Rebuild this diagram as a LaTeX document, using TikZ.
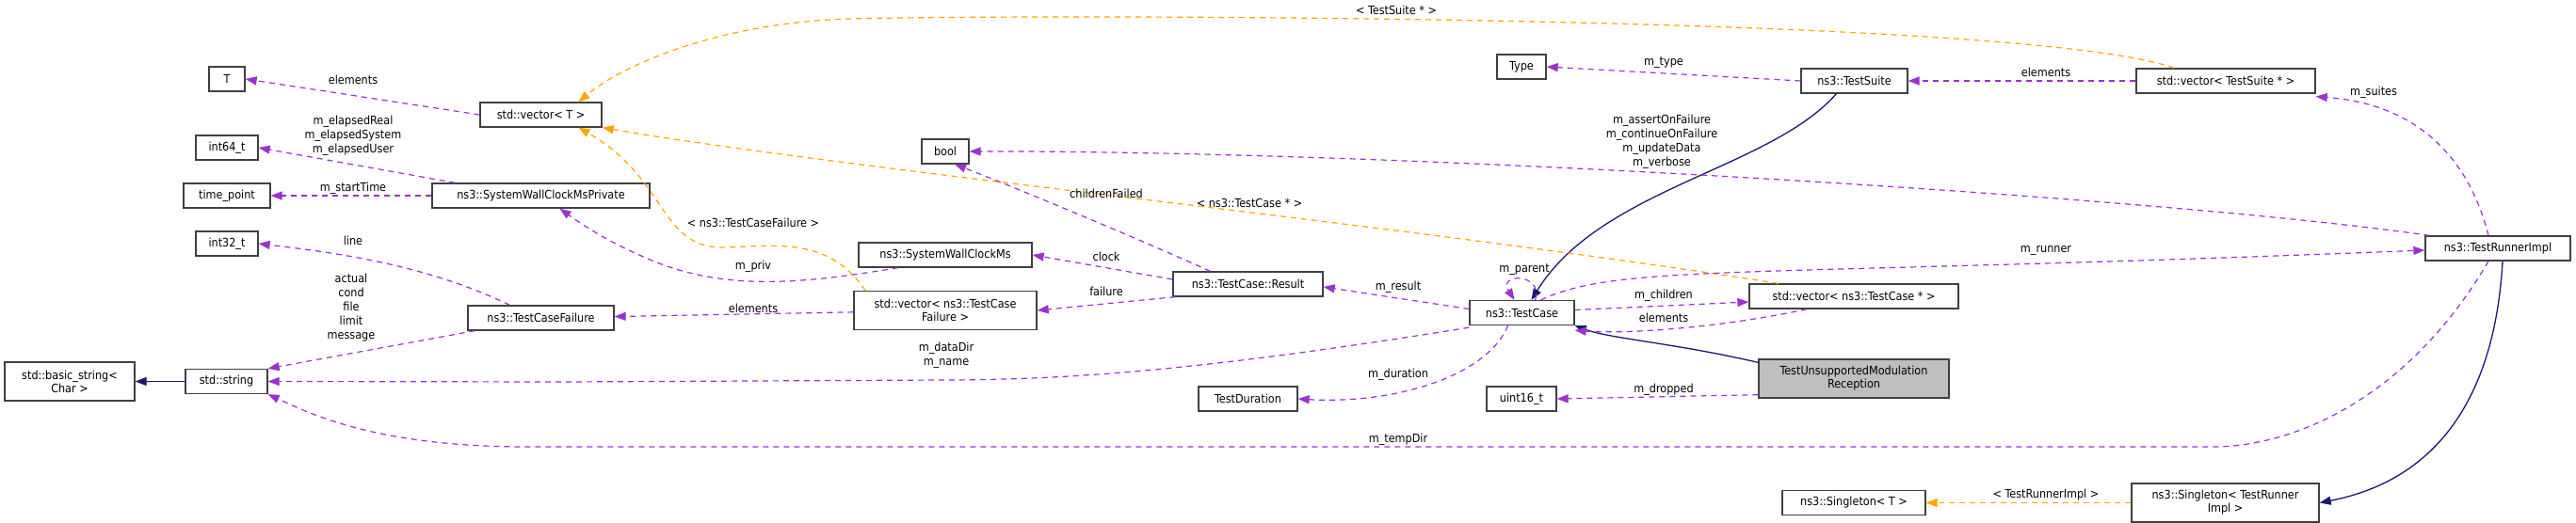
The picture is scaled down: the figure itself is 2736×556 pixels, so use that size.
\documentclass[tikz,border=0pt]{standalone}
\usepackage{fontspec}
\setmainfont{DejaVu Sans Condensed}
\usetikzlibrary{arrows.meta}
\definecolor{pur}{HTML}{9A32CD}
\definecolor{orn}{HTML}{FFA500}
\definecolor{nav}{HTML}{191970}
\tikzset{
 box/.style={draw=black!75,line width=1.3pt,fill=white,inner sep=1pt,align=center,font=\fontsize{12.5}{14}\selectfont},
 mem/.style={pur,line width=1.2pt,dash pattern=on 6pt off 5pt,-{Triangle[length=12pt,width=9pt]}},
 tpl/.style={orn,line width=1.2pt,dash pattern=on 6pt off 5pt,-{Triangle[length=12pt,width=9pt]}},
 inh/.style={nav,line width=1.3pt,-{Triangle[length=12pt,width=9pt]}},
 lbl/.style={inner sep=0pt,align=center,font=\fontsize{12.5}{15}\selectfont}
}
\newcommand\bx[6]{\node[box,minimum width=#4pt,minimum height=#5pt] (#1) at (#2,#3) {#6};}
\begin{document}
\begin{tikzpicture}[x=1pt,y=-1pt]
\useasboundingbox (0,0) rectangle (2736,556);
\bx{bstr}{74}{405.5}{138}{41}{std::basic\_string\textless\\Char \textgreater}
\bx{str}{240.5}{405.5}{87}{26}{std::string}
\bx{T}{241}{84}{38}{26}{T}
\bx{i64}{241}{157}{66}{26}{int64\_t}
\bx{tp}{241}{208}{92}{26}{time\_point}
\bx{i32}{241}{259}{66}{26}{int32\_t}
\bx{vT}{574.5}{122}{129}{26}{std::vector\textless{} T \textgreater}
\bx{swp}{574.5}{208}{231}{26}{ns3::SystemWallClockMsPrivate}
\bx{tcf}{574.5}{338}{155}{26}{ns3::TestCaseFailure}
\bx{bool}{1004}{161}{50}{26}{bool}
\bx{sw}{1004}{271}{184}{26}{ns3::SystemWallClockMs}
\bx{vtcf}{1004}{330}{194}{41}{std::vector\textless{} ns3::TestCase\\Failure \textgreater}
\bx{res}{1325.5}{302}{159}{26}{ns3::TestCase::Result}
\bx{tc}{1616.5}{332.5}{111}{26}{ns3::TestCase}
\bx{td}{1325.5}{424}{105}{26}{TestDuration}
\bx{u16}{1616}{424}{74}{26}{uint16\_t}
\bx{type}{1616}{71}{52}{26}{Type}
\bx{ts}{1969.5}{86}{113}{26}{ns3::TestSuite}
\bx{vts}{2364}{86}{190}{26}{std::vector\textless{} TestSuite * \textgreater}
\bx{tri}{2653}{264}{154}{26}{ns3::TestRunnerImpl}
\bx{vtc}{1969}{315}{222}{26}{std::vector\textless{} ns3::TestCase * \textgreater}
\node[box,fill=black!25,minimum width=202pt,minimum height=41pt] (tumr) at (1969,402.5) {TestUnsupportedModulation\\Reception};
\bx{sgT}{1969}{534.5}{152}{26}{ns3::Singleton\textless{} T \textgreater}
\bx{sgR}{2363.5}{534.5}{199}{41}{ns3::Singleton\textless{} TestRunner\\Impl \textgreater}
% inheritance
\draw[inh] (str) -- (bstr);
\draw[inh] (ts.south west)++(38,0) .. controls (1880,180) and (1700,200) .. ([xshift=10pt]tc.north);
\draw[inh] ([yshift=-4pt]tumr.north west) .. controls (1780,365) and (1710,360) .. (tc.south east);
\draw[inh] ([xshift=5pt]tri.south) .. controls (2650,420) and (2590,510) .. (sgR.east);
% templates
\draw[tpl] ([xshift=-55pt]vts.north) .. controls (2150,15) and (1100,15) .. (900,20) .. controls (760,25) and (660,70) .. ([xshift=40pt]vT.north);
\draw[tpl] ([xshift=-80pt]vtc.north) .. controls (1500,240) and (900,180) .. (vT.south east);
\draw[tpl] ([xshift=-85pt]vtcf.north) .. controls (880,250) and (820,262) .. (770,263) .. controls (700,265) and (710,190) .. ([xshift=40pt]vT.south);
\draw[tpl] (sgR) -- (sgT);
% members
\draw[mem] (vT.west) -- (T.east);
\draw[mem] ([xshift=25pt]swp.north west) -- (i64.east);
\draw[mem] (swp) -- (tp);
\draw[mem] ([xshift=45pt]tcf.north west) .. controls (450,280) and (350,268) .. (i32.east);
\draw[mem] ([xshift=8pt]tcf.south west) -- (str.north east);
\draw[mem] ([xshift=-50pt]sw.south) .. controls (860,300) and (780,310) .. (700,280) .. controls (650,260) and (620,240) .. ([xshift=20pt]swp.south);
\draw[mem] (vtcf) -- (tcf);
\draw[mem] ([xshift=-40pt]res.north) .. controls (1200,250) and (1080,200) .. ([xshift=10pt]bool.south);
\draw[mem] ([yshift=5pt]res.west) -- (sw.east);
\draw[mem] ([xshift=3pt]res.south west) -- (vtcf.east);
\draw[mem] ([yshift=4pt]tc.west) -- ([yshift=-3pt]res.east);
\draw[mem] ([xshift=14pt]tc.north) .. controls (1640,290) and (1590,290) .. ([xshift=-8pt]tc.north);
\draw[mem] ([yshift=3pt]tc.east) -- ([yshift=-6pt]vtc.west);
\draw[mem] ([xshift=-50pt]vtc.south) .. controls (1820,350) and (1720,355) .. ([yshift=-5pt]tc.south east);
\draw[mem] ([yshift=-2pt]tc.south west) .. controls (1300,390) and (1150,404) .. (1000,404) -- (600,406) -- (str.east);
\draw[mem] ([xshift=-15pt]tc.south) .. controls (1580,400) and (1480,430) .. (td.east);
\draw[mem] ([yshift=4pt]tumr.south west) -- (u16.east);
\draw[mem] (ts.west) -- (type.east);
\draw[mem] (vts) -- (ts);
\draw[mem] ([xshift=-10pt]tri.north) .. controls (2620,160) and (2560,110) .. ([yshift=-3pt]vts.south east);
\draw[mem] ([xshift=5pt]tri.north west) .. controls (2300,210) and (1500,160) .. (bool.east);
\draw[mem] ([xshift=20pt]tc.north) .. controls (1720,280) and (1850,295) .. ([yshift=-2pt]tri.west);
\draw[mem] ([xshift=-10pt]tri.south) .. controls (2560,420) and (2440,475) .. (2350,475) -- (560,475) .. controls (400,475) and (330,440) .. (str.south east);
% labels
\node[lbl] (l1) at (375,85) {elements};
\node[lbl] (l2) at (375,144) {m\_elapsedReal\\m\_elapsedSystem\\m\_elapsedUser};
\node[lbl] (l3) at (375,200) {m\_startTime};
\node[lbl] (l4) at (375,256) {line};
\node[lbl] (l5) at (373,327) {actual\\cond\\file\\limit\\message};
\node[lbl] (l6) at (800,237) {\textless{} ns3::TestCaseFailure \textgreater};
\node[lbl] (l7) at (800,283) {m\_priv};
\node[lbl] (l8) at (800,328) {elements};
\node[lbl] (l9) at (1483,11) {\textless{} TestSuite * \textgreater};
\node[lbl] (l10) at (1767,67) {m\_type};
\node[lbl] (l11) at (1765,151) {m\_assertOnFailure\\m\_continueOnFailure\\m\_updateData\\m\_verbose};
\node[lbl] (l12) at (1175,206) {childrenFailed};
\node[lbl] (l13) at (1327,216) {\textless{} ns3::TestCase * \textgreater};
\node[lbl] (l14) at (1175,273) {clock};
\node[lbl] (l15) at (1175,310) {failure};
\node[lbl] (l16) at (1619,287) {m\_parent};
\node[lbl] (l17) at (1485,305) {m\_result};
\node[lbl] (l18) at (1767,314) {m\_children};
\node[lbl] (l19) at (1767,338) {elements};
\node[lbl] (l20) at (1005,378) {m\_dataDir\\m\_name};
\node[lbl] (l21) at (1485,398) {m\_duration};
\node[lbl] (l22) at (1767,414) {m\_dropped};
\node[lbl] (l23) at (1485,467) {m\_tempDir};
\node[lbl] (l24) at (2173,77) {elements};
\node[lbl] (l25) at (2521,98) {m\_suites};
\node[lbl] (l26) at (2173,266) {m\_runner};
\node[lbl] (l27) at (2173,526) {\textless{} TestRunnerImpl \textgreater};
\end{tikzpicture}
\end{document}
